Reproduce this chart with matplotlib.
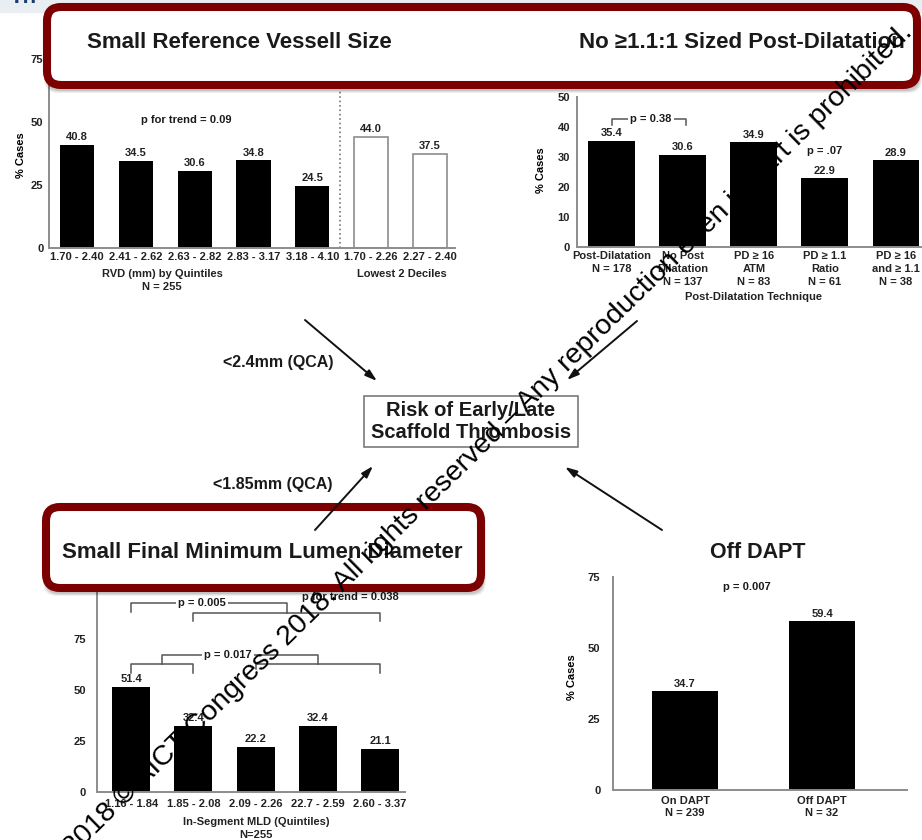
import numpy as np
import matplotlib.pyplot as plt
from matplotlib.patches import FancyBboxPatch, Rectangle

plt.rcParams['font.family'] = ['Liberation Sans', 'DejaVu Sans']
plt.rcParams['font.weight'] = 'bold'
plt.rcParams['text.color'] = '#1a1a1a'

# ---- data ----
rvd_labels = ['1.70 - 2.40', '2.41 - 2.62', '2.63 - 2.82', '2.83 - 3.17', '3.18 - 4.10']
rvd_vals = [40.8, 34.5, 30.6, 34.8, 24.5]
decile_labels = ['1.70 - 2.26', '2.27 - 2.40']
decile_vals = [44.0, 37.5]

pd_labels = ['Post-Dilatation\nN = 178', 'No Post\nDilatation\nN = 137', 'PD ≥ 16\nATM\nN = 83',
             'PD ≥ 1.1\nRatio\nN = 61', 'PD ≥ 16\nand ≥ 1.1\nN = 38']
pd_vals = [35.4, 30.6, 34.9, 22.9, 28.9]

mld_labels = ['1.16 - 1.84', '1.85 - 2.08', '2.09 - 2.26', '22.7 - 2.59', '2.60 - 3.37']
mld_vals = [51.4, 32.4, 22.2, 32.4, 21.1]

dapt_labels = ['On DAPT\nN = 239', 'Off DAPT\nN = 32']
dapt_vals = [34.7, 59.4]

W, H = 922, 840
fig = plt.figure(figsize=(W / 100, H / 100), dpi=100)
fig.patch.set_facecolor('white')

AX_COL = '#8c8c8c'
BRK_COL = '#555555'


def px_axes(left, top, right, bottom):
    return fig.add_axes([left / W, 1 - bottom / H, (right - left) / W, (bottom - top) / H])


def style(ax, yticks, ypad, xpad):
    for s in ['top', 'right']:
        ax.spines[s].set_visible(False)
    for s in ['left', 'bottom']:
        ax.spines[s].set_color(AX_COL)
        ax.spines[s].set_linewidth(1.4)
    ax.set_ylim(yticks[0], yticks[-1])
    ax.set_yticks(yticks)
    ax.tick_params(axis='y', length=0, pad=ypad, labelsize=8, labelcolor='#222')
    ax.tick_params(axis='x', length=0, pad=xpad, labelsize=8, labelcolor='#222')
    ax.patch.set_visible(False)


def value_labels(ax, xs, vals):
    for x, v in zip(xs, vals):
        ax.annotate(f'{v:.1f}', (x, v), xytext=(0, 2), textcoords='offset points',
                    ha='center', va='bottom', fontsize=8, color='#222')


# ---- top left: reference vessel size ----
ax1 = px_axes(49, 59, 455, 248)
x_q = np.arange(len(rvd_vals))
x_d = np.arange(len(decile_vals)) + len(rvd_vals)
ax1.bar(x_q, rvd_vals, width=0.58, color='black')
ax1.bar(x_d, decile_vals, width=0.58, color='white', edgecolor=AX_COL, linewidth=1.2)
ax1.axvline(4.47, color='#777777', ls=':', lw=1.2)
ax1.set_xlim(-0.48, 6.43)
ax1.set_xticks(np.concatenate([x_q, x_d]))
ax1.set_xticklabels(rvd_labels + decile_labels)
style(ax1, [0, 25, 50, 75], 4, 3)
value_labels(ax1, x_q, rvd_vals)
value_labels(ax1, x_d, decile_vals)
ax1.text(1.85, 50.8, 'p for trend = 0.09', ha='center', va='center', fontsize=8)
ax1.set_ylabel('% Cases', fontsize=8, fontweight='bold')
ax1.yaxis.set_label_coords(-0.057, 0.49)

# ---- top right: post-dilatation ----
ax2 = px_axes(577, 97, 940, 247)
x_pd = np.arange(len(pd_vals))
ax2.bar(x_pd, pd_vals, width=0.66, color='black')
ax2.set_xlim(-0.49, 4.62)
ax2.set_xticks(x_pd)
ax2.set_xticklabels(pd_labels, linespacing=1.35, va='top')
style(ax2, [0, 10, 20, 30, 40, 50], 5, 3)
value_labels(ax2, x_pd, pd_vals)
ax2.plot([0, 0, 1.04, 1.04], [40.7, 42.7, 42.7, 40.7], color=BRK_COL, lw=1.1, clip_on=False)
ax2.text(0.55, 42.7, 'p = 0.38', ha='center', va='center', fontsize=8,
         bbox=dict(fc='white', ec='none', pad=1.5))
ax2.text(3, 32, 'p = .07', ha='center', va='center', fontsize=8)
ax2.set_ylabel('% Cases', fontsize=8, fontweight='bold')
ax2.yaxis.set_label_coords(-0.085, 0.51)

# ---- bottom left: minimum lumen diameter ----
ax3 = px_axes(97, 588, 405, 792)
x_m = np.arange(len(mld_vals))
ax3.bar(x_m, mld_vals, width=0.61, color='black')
ax3.set_xlim(-0.55, 4.4)
ax3.set_xticks(x_m)
ax3.set_xticklabels(mld_labels)
style(ax3, [0, 25, 50, 75, 100], 8, 5)
value_labels(ax3, x_m, mld_vals)
# first quintile vs the rest, and quintile 2 vs 3-5
ax3.plot([0, 0, 2.5, 2.5], [88.2, 92.6, 92.6, 87.7], color=BRK_COL, lw=1.1, clip_on=False)
ax3.plot([1, 1, 4, 4], [84.0, 87.7, 87.7, 84.0], color=BRK_COL, lw=1.1, clip_on=False)
ax3.text(1.13, 92.6, 'p = 0.005', ha='center', va='center', fontsize=8,
         bbox=dict(fc='white', ec='none', pad=1.5))
ax3.text(3.52, 95.6, 'p for trend = 0.038', ha='center', va='center', fontsize=8)
# lowest 2 vs highest 3 quintiles
ax3.plot([0, 0, 1, 1], [58.3, 62.7, 62.7, 58.3], color=BRK_COL, lw=1.1, clip_on=False)
ax3.plot([2, 2, 4, 4], [60.5, 62.7, 62.7, 58.3], color=BRK_COL, lw=1.1, clip_on=False)
ax3.plot([0.5, 0.5, 3, 3], [62.7, 67.2, 67.2, 62.7], color=BRK_COL, lw=1.1, clip_on=False)
ax3.text(1.55, 67.2, 'p = 0.017', ha='center', va='center', fontsize=8,
         bbox=dict(fc='white', ec='none', pad=1.5))

# ---- bottom right: DAPT ----
ax4 = px_axes(613, 577, 907, 790)
x_dp = np.arange(len(dapt_vals))
ax4.bar(x_dp, dapt_vals, width=0.48, color='black')
ax4.set_xlim(-0.526, 1.62)
ax4.set_xticks(x_dp)
ax4.set_xticklabels(dapt_labels, linespacing=1.2)
style(ax4, [0, 25, 50, 75], 9, 4.5)
value_labels(ax4, x_dp, dapt_vals)
ax4.text(0.45, 71.5, 'p = 0.007', ha='center', va='center', fontsize=8)
ax4.set_ylabel('% Cases', fontsize=8, fontweight='bold')
ax4.yaxis.set_label_coords(-0.122, 0.53)

# ---- overlay in pixel space: banners, arrows, central box ----
ov = fig.add_axes([0, 0, 1, 1], zorder=5)
ov.set_xlim(0, W)
ov.set_ylim(H, 0)
ov.axis('off')
ov.patch.set_visible(False)

ov.add_patch(Rectangle((0, 0), W, 12, color='#e8eef2', zorder=1))
ov.text(10, 8, 'Th', color='#1d3b70', fontsize=16, va='bottom', ha='left', zorder=1)


def banner(x0, y0, x1, y1):
    for k, a in enumerate([0.10, 0.08, 0.06]):
        ov.add_patch(FancyBboxPatch((x0 + 1, y0 + 4), x1 - x0, y1 - y0,
                                    boxstyle='round,pad=%d,rounding_size=14' % (k + 2),
                                    fc='black', ec='none', alpha=a, zorder=2))
    ov.add_patch(FancyBboxPatch((x0, y0), x1 - x0, y1 - y0,
                                boxstyle='round,pad=0,rounding_size=14',
                                fc='white', ec='#7d0000', lw=5.8, zorder=3))


banner(47, 7, 917, 85)
banner(46, 507, 481, 588)

ov.text(87, 43, 'Small Reference Vessell Size', fontsize=16, ha='left', va='center', zorder=4)
ov.text(905, 43, 'No ≥1.1:1 Sized Post-Dilatation', fontsize=16, ha='right', va='center', zorder=4)
ov.text(62, 553, 'Small Final Minimum Lumen Diameter', fontsize=16, ha='left', va='center', zorder=4)
ov.text(758, 553, 'Off DAPT', fontsize=15.5, ha='center', va='center', zorder=4)

# axis titles
ov.text(162, 274, 'RVD (mm) by Quintiles', fontsize=8, ha='center', va='center', color='#222')
ov.text(162, 287, 'N = 255', fontsize=8, ha='center', va='center', color='#222')
ov.text(402, 274, 'Lowest 2 Deciles', fontsize=8, ha='center', va='center', color='#222')
ov.text(753, 297, 'Post-Dilatation Technique', fontsize=8, ha='center', va='center', color='#222')
ov.text(256, 822, 'In-Segment MLD (Quintiles)', fontsize=8, ha='center', va='center', color='#222')
ov.text(256, 835, 'N=255', fontsize=8, ha='center', va='center', color='#222')

# central box
ov.add_patch(Rectangle((364, 396), 214, 51, fc='white', ec='#7a7a7a', lw=1.2, zorder=4))
ov.text(471, 421.5, 'Risk of Early/Late\nScaffold Thrombosis', fontsize=14.5,
        ha='center', va='center', linespacing=1.22, zorder=5)

arrows = [((305, 320), (377, 381)), ((637, 321), (567, 380)),
          ((315, 530), (373, 466)), ((662, 530), (565, 467))]
for start, end in arrows:
    ov.annotate('', xy=end, xytext=start, zorder=6,
                arrowprops=dict(arrowstyle='-|>,head_length=0.7,head_width=0.22',
                                lw=1.4, color='#111111', shrinkA=0, shrinkB=0))

ov.text(278, 362, '<2.4mm (QCA)', fontsize=11.5, ha='center', va='center', zorder=4)
ov.text(273, 485, '<1.85mm (QCA)', fontsize=11.5, ha='center', va='center', zorder=4)

# diagonal copyright notice
ov.text(913, 33, '2018 © AICT Congress 2018. All rights reserved – Any reproduction even in part is prohibited.',
        fontsize=20.5, fontweight='normal', color='black', ha='right', va='baseline',
        rotation=44.4, rotation_mode='anchor', zorder=10)

fig.savefig('out.png', dpi=100)
